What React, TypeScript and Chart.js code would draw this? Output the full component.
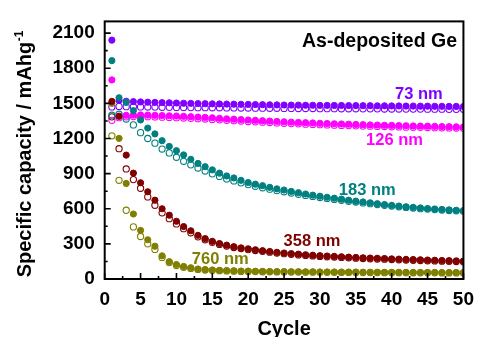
import React, { useEffect, useRef } from "react";
import { Chart, registerables } from "chart.js";

Chart.register(...registerables);

const cycles = [
  1, 2, 3, 4, 5, 6, 7, 8, 9, 10, 11, 12, 13, 14, 15, 16, 17, 18, 19, 20, 21, 22, 23, 24, 25,
  26, 27, 28, 29, 30, 31, 32, 33, 34, 35, 36, 37, 38, 39, 40, 41, 42, 43, 44, 45, 46, 47, 48, 49, 50,
];

// 73 nm
const nm73Filled = [
  2040, 1525, 1518, 1515, 1512, 1510, 1508, 1506, 1505, 1503, 1501, 1500, 1498, 1497, 1496, 1495, 1494,
  1493, 1492, 1491, 1490, 1489, 1488, 1487, 1486, 1485, 1485, 1484, 1484, 1483, 1483, 1482, 1482, 1481,
  1481, 1480, 1480, 1479, 1479, 1478, 1478, 1477, 1477, 1476, 1476, 1475, 1475, 1474, 1474, 1473,
];
const nm73Open = [
  1470, 1474, 1472, 1471, 1470, 1469, 1468, 1467, 1466, 1465, 1465, 1464, 1463, 1463, 1462, 1462, 1461,
  1461, 1460, 1460, 1459, 1459, 1458, 1458, 1457, 1457, 1456, 1456, 1456, 1455, 1455, 1455, 1454, 1454,
  1454, 1453, 1453, 1453, 1452, 1452, 1452, 1451, 1451, 1451, 1450, 1450, 1450, 1449, 1449, 1449,
];
// 126 nm
const nm126Filled = [
  1700, 1390, 1398, 1400, 1401, 1400, 1398, 1396, 1394, 1392, 1389, 1386, 1383, 1380, 1377, 1372, 1368,
  1365, 1362, 1358, 1355, 1352, 1349, 1346, 1343, 1340, 1337, 1335, 1333, 1330, 1328, 1326, 1324, 1322,
  1320, 1318, 1316, 1315, 1313, 1312, 1310, 1309, 1307, 1306, 1305, 1304, 1302, 1301, 1300, 1299,
];
const nm126Open = [
  1355, 1378, 1385, 1387, 1387, 1386, 1384, 1382, 1380, 1378, 1375, 1372, 1369, 1366, 1363, 1359, 1355,
  1352, 1349, 1345, 1342, 1339, 1336, 1333, 1330, 1327, 1325, 1322, 1320, 1318, 1316, 1314, 1312, 1310,
  1308, 1306, 1305, 1303, 1302, 1300, 1299, 1297, 1296, 1295, 1294, 1292, 1291, 1290, 1289, 1288,
];
// 183 nm
const nm183Filled = [
  1865, 1548, 1508, 1438, 1358, 1289, 1239, 1181, 1132, 1096, 1060, 1022, 987, 959, 932, 904, 880, 863,
  843, 824, 810, 797, 783, 770, 760, 748, 737, 726, 716, 707, 698, 690, 682, 673, 665, 658, 651, 643, 636,
  629, 623, 617, 612, 607, 602, 598, 594, 590, 587, 584,
];
const nm183Open = [
  1399, 1407, 1366, 1316, 1250, 1200, 1160, 1110, 1077, 1040, 1005, 975, 948, 922, 898, 876, 855, 838,
  821, 806, 792, 779, 767, 755, 745, 734, 724, 714, 705, 696, 688, 680, 672, 664, 657, 650, 643, 636, 629,
  623, 617, 611, 606, 601, 597, 593, 589, 585, 582, 579,
];
// 358 nm
const nm358Filled = [
  1517, 1390, 1058, 904, 822, 745, 673, 600, 545, 493, 448, 412, 373, 345, 322, 303, 289, 276, 266, 258,
  250, 242, 235, 228, 222, 217, 212, 207, 203, 199, 196, 193, 190, 187, 184, 181, 179, 177, 175, 172, 170,
  168, 166, 164, 162, 160, 158, 157, 155, 154,
];
const nm358Open = [
  1385, 1113, 940, 849, 775, 701, 630, 565, 515, 470, 430, 395, 360, 335, 313, 295, 281, 269, 260, 251,
  243, 236, 229, 222, 216, 211, 206, 201, 197, 193, 190, 187, 184, 181, 178, 175, 173, 171, 169, 166, 164,
  162, 160, 158, 156, 154, 152, 151, 149, 148,
];
// 760 nm
const nm760Filled = [
  1500, 1201, 816, 555, 415, 335, 280, 198, 148, 124, 107, 96, 85, 80, 77, 74, 72, 70, 68, 67, 66, 65, 64,
  63, 63, 62, 62, 61, 61, 60, 60, 60, 59, 59, 59, 58, 58, 58, 57, 57, 57, 57, 56, 56, 56, 56, 55, 55, 55, 55,
];
const nm760Open = [
  1223, 843, 587, 445, 363, 300, 253, 184, 140, 115, 100, 90, 82, 77, 74, 71, 69, 67, 65, 64, 63, 62, 61,
  60, 60, 59, 59, 58, 58, 57, 57, 57, 56, 56, 56, 55, 55, 55, 54, 54, 54, 54, 53, 53, 53, 53, 52, 52, 52, 52,
];

const xTickValues = [0, 5, 10, 15, 20, 25, 30, 35, 40, 45, 50];
const xMinorTicks = [2.5, 7.5, 12.5, 17.5, 22.5, 27.5, 32.5, 37.5, 42.5, 47.5];
const yTickValues = [0, 300, 600, 900, 1200, 1500, 1800, 2100];
const yMinorTicks = [150, 450, 750, 1050, 1350, 1650, 1950];

const seriesLabels = ["73 nm", "126 nm", "183 nm", "358 nm", "760 nm"];
const seriesColors = ["#8000FF", "#FF00FF", "#008080", "#800000", "#808000"];
// label anchor positions in data units [cycle, capacity]
const labelAnchors: [number, number][] = [
  [43.8, 1577],
  [40.4, 1179],
  [36.6, 756],
  [28.9, 322],
  [16.1, 165],
];
const panelTitle = "As-deposited Ge";
const xTitle = "Cycle";
const yTitle = "Specific capacity / mAhg";
const yTitleSup = "-1";

const FONT = "'Liberation Sans', Arial, Helvetica, sans-serif";

function pts(vals: number[]) {
  return vals.map((v, i) => ({ x: cycles[i], y: v }));
}

const decorPlugin = {
  id: "decor",
  afterDraw(chart: any) {
    const { ctx, chartArea, scales } = chart;
    const xs = scales.x;
    const ys = scales.y;
    ctx.save();
    // frame
    ctx.strokeStyle = "#000";
    ctx.lineWidth = 2;
    ctx.strokeRect(chartArea.left, chartArea.top, chartArea.right - chartArea.left, chartArea.bottom - chartArea.top);
    // ticks (inward)
    ctx.lineWidth = 1.6;
    ctx.beginPath();
    for (const v of xTickValues) {
      const px = xs.getPixelForValue(v);
      ctx.moveTo(px, chartArea.bottom);
      ctx.lineTo(px, chartArea.bottom - 6);
    }
    for (const v of xMinorTicks) {
      const px = xs.getPixelForValue(v);
      ctx.moveTo(px, chartArea.bottom);
      ctx.lineTo(px, chartArea.bottom - 3);
    }
    for (const v of yTickValues) {
      const py = ys.getPixelForValue(v);
      ctx.moveTo(chartArea.left, py);
      ctx.lineTo(chartArea.left + 6, py);
    }
    for (const v of yMinorTicks) {
      const py = ys.getPixelForValue(v);
      ctx.moveTo(chartArea.left, py);
      ctx.lineTo(chartArea.left + 3, py);
    }
    ctx.stroke();

    // series labels
    ctx.font = `bold 16.5px ${FONT}`;
    ctx.textAlign = "center";
    ctx.textBaseline = "middle";
    seriesLabels.forEach((t, i) => {
      ctx.fillStyle = seriesColors[i];
      ctx.fillText(t, xs.getPixelForValue(labelAnchors[i][0]), ys.getPixelForValue(labelAnchors[i][1]));
    });

    // panel title
    ctx.fillStyle = "#000";
    ctx.font = `bold 19.5px ${FONT}`;
    ctx.textAlign = "right";
    ctx.fillText(panelTitle, xs.getPixelForValue(49.1), ys.getPixelForValue(2028));

    // x title
    ctx.font = `bold 20px ${FONT}`;
    ctx.textAlign = "center";
    ctx.textBaseline = "alphabetic";
    ctx.fillText(xTitle, (chartArea.left + chartArea.right) / 2, chart.height - 2);

    // y title with superscript
    ctx.translate(30.5, (chartArea.top + chartArea.bottom) / 2 + 4);
    ctx.rotate(-Math.PI / 2);
    ctx.font = `bold 20px ${FONT}`;
    const w1 = ctx.measureText(yTitle).width;
    ctx.font = `bold 12px ${FONT}`;
    const w2 = ctx.measureText(yTitleSup).width;
    const start = -(w1 + w2) / 2;
    ctx.textAlign = "left";
    ctx.font = `bold 20px ${FONT}`;
    ctx.fillText(yTitle, start, 0);
    ctx.font = `bold 12px ${FONT}`;
    ctx.fillText(yTitleSup, start + w1 + 0.5, -8);
    ctx.restore();
  },
};

export default function App() {
  const ref = useRef<HTMLCanvasElement | null>(null);
  useEffect(() => {
    if (!ref.current) return;
    const filled = [
      { d: nm183Filled, c: seriesColors[2] },
      { d: nm358Filled, c: seriesColors[3] },
      { d: nm73Filled, c: seriesColors[0] },
      { d: nm126Filled, c: seriesColors[1] },
      { d: nm760Filled, c: seriesColors[4] },
    ];
    const open = [
      { d: nm183Open, c: seriesColors[2] },
      { d: nm358Open, c: seriesColors[3] },
      { d: nm73Open, c: seriesColors[0] },
      { d: nm126Open, c: seriesColors[1] },
      { d: nm760Open, c: seriesColors[4] },
    ];
    const datasets: any[] = [
      ...filled.map((s) => ({
        data: pts(s.d),
        backgroundColor: s.c,
        borderColor: s.c,
        pointRadius: 3.1,
        pointBorderWidth: 1,
        showLine: false,
      })),
      ...open.map((s) => ({
        data: pts(s.d),
        backgroundColor: "rgba(255,255,255,0)",
        borderColor: s.c,
        pointRadius: 3.1,
        pointBorderWidth: 1.1,
        showLine: false,
      })),
    ];
    const tickFont = { family: FONT, size: 19, weight: "bold" as const };
    const chart = new Chart(ref.current, {
      type: "scatter",
      data: { datasets },
      options: {
        animation: false,
        responsive: false,
        maintainAspectRatio: false,
        layout: { padding: { left: 0, right: 12.3, top: 12.7, bottom: 0 } },
        plugins: { legend: { display: false }, tooltip: { enabled: false } },
        scales: {
          x: {
            type: "linear",
            min: 0,
            max: 50,
            grid: { display: false, drawTicks: false },
            border: { display: false },
            ticks: {
              font: tickFont,
              color: "#000",
              padding: 9,
              maxRotation: 0,
              autoSkip: false,
              callback: (v: any) => String(v),
            },
            afterBuildTicks: (s: any) => {
              s.ticks = xTickValues.map((v) => ({ value: v }));
            },
            afterFit: (s: any) => {
              s.height = 58;
            },
          },
          y: {
            type: "linear",
            min: 0,
            max: 2200,
            grid: { display: false, drawTicks: false },
            border: { display: false },
            ticks: {
              font: tickFont,
              color: "#000",
              padding: 10,
              autoSkip: false,
              callback: (v: any) => String(v),
            },
            afterBuildTicks: (s: any) => {
              s.ticks = yTickValues.map((v) => ({ value: v }));
            },
            afterFit: (s: any) => {
              s.width = 104.7;
            },
          },
        },
      },
      plugins: [decorPlugin],
    });
    return () => chart.destroy();
  }, []);
  return (
    <div style={{ position: "fixed", left: 0, top: 0, width: 483, height: 337, background: "#fff" }}>
      <canvas ref={ref} width={483} height={337} style={{ display: "block" }} />
    </div>
  );
}
